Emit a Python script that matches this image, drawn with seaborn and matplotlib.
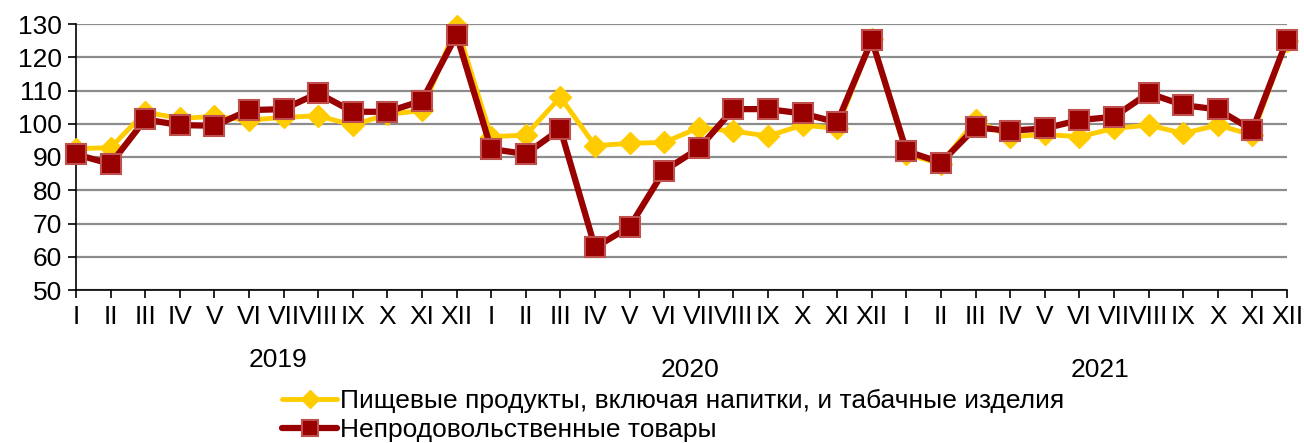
import numpy as np
import pandas as pd
import matplotlib
matplotlib.use("Agg")
import matplotlib.pyplot as plt
import matplotlib.transforms as mtransforms
import seaborn as sns

months = ["I", "II", "III", "IV", "V", "VI", "VII", "VIII", "IX", "X", "XI", "XII"]
years = ["2019", "2020", "2021"]
series_names = ["Пищевые продукты, включая напитки, и табачные изделия",
                "Непродовольственные товары"]

food = [92.5, 92.8, 103.5, 101.6, 102.2, 101.1, 101.9, 102.4, 99.6, 102.8, 104.0, 129.5,
        96.1, 96.6, 108.0, 93.4, 94.1, 94.4, 98.8, 97.8, 96.3, 99.6, 98.6, 125.5,
        90.8, 88.0, 101.0, 96.1, 96.8, 96.1, 98.6, 99.6, 97.1, 99.6, 96.6, 125.0]
nonfood = [90.8, 87.9, 101.3, 99.6, 99.4, 104.1, 104.4, 109.2, 103.6, 103.6, 106.9, 126.7,
           92.4, 90.9, 98.4, 62.8, 69.0, 85.9, 92.6, 104.4, 104.4, 103.1, 100.4, 125.2,
           91.8, 88.3, 98.9, 97.9, 98.6, 101.1, 102.1, 109.2, 105.6, 104.3, 98.1, 125.2]

labels = months * len(years)
df = pd.DataFrame({"x": np.arange(len(labels)), "food": food, "nonfood": nonfood})

sns.set_theme(style="white")
plt.rcParams['font.family'] = ['Liberation Sans', 'DejaVu Sans']
plt.rcParams['text.color'] = 'black'
FS = 19

W, H = 1304, 443
fig = plt.figure(figsize=(W / 100, H / 100), dpi=100)
ax = fig.add_axes([76 / W, 1 - 290 / H, (1287 - 76) / W, 266 / H])

sns.lineplot(data=df, x="x", y="food", ax=ax, color="#FFCC00", lw=3.5,
             marker="D", markersize=11, markeredgecolor="#FFCC00", markeredgewidth=1,
             clip_on=False, label=series_names[0], zorder=3)
sns.lineplot(data=df, x="x", y="nonfood", ax=ax, color="#990000", lw=4.5,
             marker="s", markersize=14, markeredgecolor="#C0504D", markeredgewidth=1.5,
             clip_on=False, label=series_names[1], zorder=4)

ax.set_xlim(0, len(labels) - 1)
ax.set_ylim(50, 130)
ax.set_yticks(np.arange(50, 131, 10))
ax.set_xticks(df["x"])
ax.set_xticklabels(labels)
ax.tick_params(axis='both', labelsize=FS, colors='black', labelcolor='black',
               direction='out', length=6, width=1.2, bottom=True, left=True)
ax.tick_params(axis='x', pad=5)
ax.tick_params(axis='y', pad=4)
ax.set_xlabel("")
ax.set_ylabel("")
ax.grid(axis='y', color='#8c8c8c', lw=1.6)
ax.grid(axis='x', visible=False)
for s in ["top", "right"]:
    ax.spines[s].set_visible(False)
for s in ["left", "bottom"]:
    ax.spines[s].set_color("black")
    ax.spines[s].set_linewidth(1.2)

trans = mtransforms.blended_transform_factory(ax.transData, ax.transAxes)
year_pos = [(5.84, -0.263), (17.75, -0.30), (29.6, -0.30)]
for yr, (xp, yp) in zip(years, year_pos):
    ax.text(xp, yp, yr, transform=trans, ha='center', va='center', fontsize=FS,
            color='black')

leg = ax.legend(loc='upper left', bbox_to_anchor=(282 / W, 1 - 389 / H),
                bbox_transform=fig.transFigure, frameon=False, fontsize=FS,
                borderpad=0, borderaxespad=0, handlelength=2.1, handletextpad=0.1,
                labelspacing=0.2, markerscale=0.85)
for t in leg.get_texts():
    t.set_color('black')

fig.savefig("out.png", dpi=100)
